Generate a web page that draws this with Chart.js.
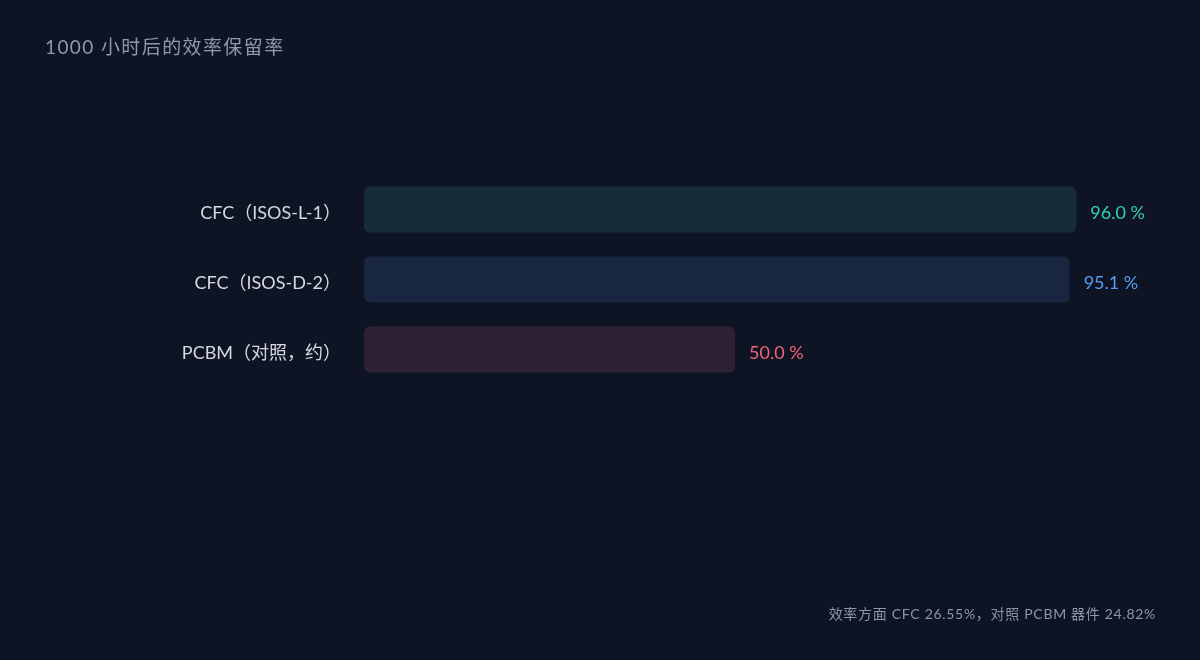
<!DOCTYPE html>
<html>
<head>
<meta charset="utf-8">
<script src="https://cdn.jsdelivr.net/npm/chart.js@4.4.1/dist/chart.umd.min.js"></script>
<style>
  html, body { margin: 0; padding: 0; background: #0e1424; }
  #wrap { position: relative; width: 1200px; height: 660px; }
  canvas { display: block; }
</style>
</head>
<body>
<div id="wrap"><canvas id="c" width="1200" height="660"></canvas></div>
<script>
const titleText = '1000 小时后的效率保留率';
const footerText = '效率方面 CFC 26.55%，对照 PCBM 器件 24.82%';
const categories = ['CFC（ISOS-L-1）', 'CFC（ISOS-D-2）', 'PCBM（对照，约）'];
const retention = [96.0, 95.1, 50.0];
const barColors = ['#172c3a', '#18263f', '#2d2133'];
const labelColors = ['#36cdb5', '#5a9bef', '#ef6578'];
const axisMin = 0;
const axisMax = 100;

const FONT = 'Lato, "Noto Sans CJK SC", "Noto Sans", sans-serif';

const textPlugin = {
  id: 'textPlugin',
  afterDatasetsDraw(chart) {
    const ctx = chart.ctx;
    const meta = chart.getDatasetMeta(0);
    ctx.save();
    ctx.font = '18px ' + FONT;
    ctx.textBaseline = 'middle';
    ctx.textAlign = 'left';
    meta.data.forEach((bar, i) => {
      ctx.fillStyle = labelColors[i];
      ctx.fillText(retention[i].toFixed(1) + ' %', bar.x + 14, bar.y + 4);
    });
    ctx.restore();
  },
  afterDraw(chart) {
    const ctx = chart.ctx;
    ctx.save();
    ctx.textBaseline = 'middle';
    ctx.font = '19px ' + FONT;
    ctx.letterSpacing = '1.4px';
    ctx.fillStyle = '#8e99ab';
    ctx.textAlign = 'left';
    ctx.fillText(titleText, 45, 48);
    ctx.font = '14px ' + FONT;
    ctx.letterSpacing = '0.7px';
    ctx.fillStyle = '#8b96a8';
    ctx.textAlign = 'right';
    ctx.fillText(footerText, 1156, 614);
    ctx.restore();
  }
};

new Chart(document.getElementById('c'), {
  type: 'bar',
  data: {
    labels: categories,
    datasets: [{
      data: retention,
      backgroundColor: barColors,
      borderRadius: 6,
      borderSkipped: false,
      barPercentage: 0.657,
      categoryPercentage: 1.0
    }]
  },
  options: {
    indexAxis: 'y',
    responsive: false,
    animation: false,
    layout: { padding: { top: 174.5, bottom: 275.5, left: 45, right: 94 } },
    plugins: {
      legend: { display: false },
      tooltip: { enabled: false },
      title: { display: false }
    },
    scales: {
      x: {
        display: false,
        min: axisMin,
        max: axisMax
      },
      y: {
        grid: { display: false, drawTicks: false },
        border: { display: false },
        ticks: {
          color: '#d4d9e1',
          font: { family: FONT, size: 18 },
          padding: 23,
          labelOffset: 4
        },
        afterFit(scale) { scale.width = 319; }
      }
    }
  },
  plugins: [textPlugin]
});
</script>
</body>
</html>
